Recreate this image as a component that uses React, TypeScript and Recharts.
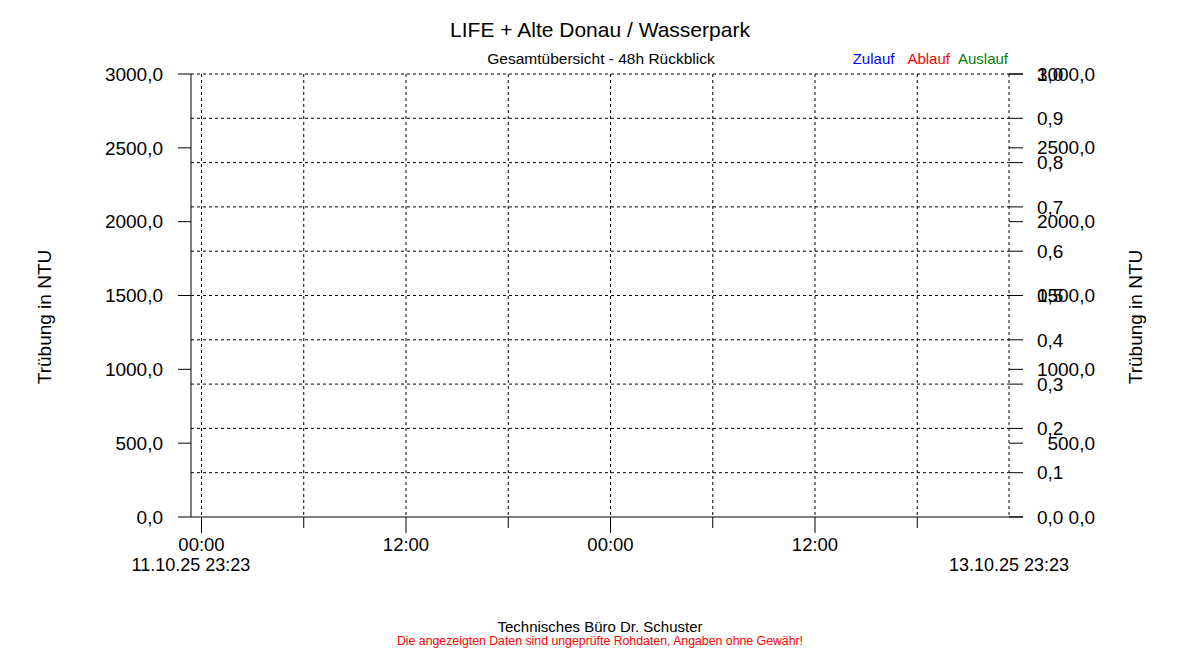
import { ComposedChart, Line, XAxis, YAxis, CartesianGrid } from 'recharts'

// 48h window, hours counted from 11.10.25 23:23
const startLabel = '11.10.25 23:23'
const endLabel = '13.10.25 23:23'
const timeTicks = [0, 0.617, 6.617, 12.617, 18.617, 24.617, 30.617, 36.617, 42.617, 48]
const timeTickLabels = ['', '00:00', '', '12:00', '', '00:00', '', '12:00', '', '']

// NTU scale (left + right) and the 0..1 scale on the right
const ntuTicks = [0, 500, 1000, 1500, 2000, 2500, 3000]
const fracTicks = [0, 0.1, 0.2, 0.3, 0.4, 0.5, 0.6, 0.7, 0.8, 0.9, 1.0]

// series have no readings in the window
const timestamps = [0, 48]
const zulauf: (number | null)[] = [null, null]
const ablauf: (number | null)[] = [null, null]
const auslauf: (number | null)[] = [null, null]

const seriesNames = ['Zulauf', 'Ablauf', 'Auslauf']
const seriesColors = ['#0000FF', '#FF0000', '#008000']

const FONT = '"Liberation Sans", Arial, sans-serif'

const data = timestamps.map((t, i) => ({
  t,
  Zulauf: zulauf[i],
  Ablauf: ablauf[i],
  Auslauf: auslauf[i],
}))

const fmt = (v: number) => v.toFixed(1).replace('.', ',')

function TimeTick(props: any) {
  const { x, y, payload } = props
  const idx = timeTicks.indexOf(payload.value)
  if (idx === 0 || idx === timeTicks.length - 1) {
    return (
      <text x={x} y={y + 48} textAnchor="middle" dominantBaseline="central" fontSize={18} fontFamily={FONT} fill="#000">
        {idx === 0 ? startLabel : endLabel}
      </text>
    )
  }
  const label = timeTickLabels[idx]
  return (
    <g>
      <line x1={x} x2={x} y1={y} y2={y + (label ? 16 : 11)} stroke="#000" />
      {label && (
        <text x={x} y={y + 27} textAnchor="middle" dominantBaseline="central" fontSize={18.5} fontFamily={FONT} fill="#000">
          {label}
        </text>
      )}
    </g>
  )
}

// outer right axis: drawn back over the plot edge so both scales overlap
function RightNtuTick(props: any) {
  const { x, y, payload } = props
  return (
    <g>
      <line x1={x - 100} x2={x - 86} y1={y} y2={y} stroke="#000" />
      <text x={x - 14} y={y} textAnchor="end" dominantBaseline="central" fontSize={19} fontFamily={FONT} fill="#000">
        {fmt(payload.value)}
      </text>
    </g>
  )
}

export default function App() {
  return (
    <div style={{ position: 'absolute', left: 0, top: 0, width: 1200, height: 650, background: '#fff', fontFamily: FONT, color: '#000' }}>
      <ComposedChart
        width={1200}
        height={650}
        data={data}
        margin={{ top: 74, right: 90, bottom: 73, left: 91 }}
      >
        <CartesianGrid
          xAxisId="time"
          yAxisId="frac"
          stroke="#000"
          strokeDasharray="3 3"
          verticalValues={timeTicks.slice(1)}
          horizontalValues={fracTicks.slice(1)}
        />
        <XAxis
          xAxisId="time"
          dataKey="t"
          type="number"
          domain={[0, 48]}
          allowDataOverflow
          ticks={timeTicks}
          interval={0}
          height={60}
          stroke="#000"
          tickLine={false}
          tickSize={0}
          tickMargin={0}
          tick={<TimeTick />}
        />
        <YAxis
          yAxisId="ntu"
          type="number"
          orientation="left"
          domain={[0, 3000]}
          allowDataOverflow
          ticks={ntuTicks}
          interval={0}
          width={100}
          stroke="#000"
          tickSize={13}
          tickMargin={15}
          tickFormatter={fmt}
          tick={{ fill: '#000', fontSize: 19, fontFamily: FONT }}
        />
        <YAxis
          yAxisId="frac"
          type="number"
          orientation="right"
          domain={[0, 1]}
          allowDataOverflow
          ticks={fracTicks}
          interval={0}
          width={100}
          stroke="#000"
          axisLine={false}
          tickSize={14}
          tickMargin={14}
          tickFormatter={fmt}
          tick={{ fill: '#000', fontSize: 19, fontFamily: FONT }}
        />
        <YAxis
          yAxisId="ntuR"
          type="number"
          orientation="right"
          domain={[0, 3000]}
          allowDataOverflow
          ticks={ntuTicks}
          interval={0}
          width={1}
          axisLine={false}
          tickLine={false}
          tickSize={0}
          tickMargin={0}
          tick={<RightNtuTick />}
        />
        {seriesNames.map((name, i) => (
          <Line
            key={name}
            xAxisId="time"
            yAxisId="ntu"
            dataKey={name}
            stroke={seriesColors[i]}
            dot={false}
            isAnimationActive={false}
          />
        ))}
      </ComposedChart>

      <div style={{ position: 'absolute', left: 0, width: 1200, top: 17, textAlign: 'center', fontSize: 21, lineHeight: '25px' }}>
        LIFE + Alte Donau / Wasserpark
      </div>
      <div style={{ position: 'absolute', left: 0, width: 1202, top: 50, textAlign: 'center', fontSize: 15.5, lineHeight: '18px' }}>
        Gesamtübersicht - 48h Rückblick
      </div>
      <div style={{ position: 'absolute', right: 192, top: 50, fontSize: 15, lineHeight: '18px', whiteSpace: 'nowrap' }}>
        {seriesNames.map((name, i) => (
          <span key={name} style={{ color: seriesColors[i], marginLeft: i === 0 ? 0 : i === 1 ? 13 : 8 }}>{name}</span>
        ))}
      </div>
      <div style={{ position: 'absolute', left: 45, top: 317, transform: 'translate(-50%, -50%) rotate(-90deg)', fontSize: 19, whiteSpace: 'nowrap' }}>
        Trübung in NTU
      </div>
      <div style={{ position: 'absolute', left: 1136, top: 317, transform: 'translate(-50%, -50%) rotate(-90deg)', fontSize: 19, whiteSpace: 'nowrap' }}>
        Trübung in NTU
      </div>
      <div style={{ position: 'absolute', left: 0, width: 1200, top: 618, textAlign: 'center', fontSize: 15, lineHeight: '18px' }}>
        Technisches Büro Dr. Schuster
      </div>
      <div style={{ position: 'absolute', left: 0, width: 1200, top: 634, textAlign: 'center', fontSize: 12.3, lineHeight: '14px', color: '#FF0000' }}>
        Die angezeigten Daten sind ungeprüfte Rohdaten, Angaben ohne Gewähr!
      </div>
    </div>
  )
}
